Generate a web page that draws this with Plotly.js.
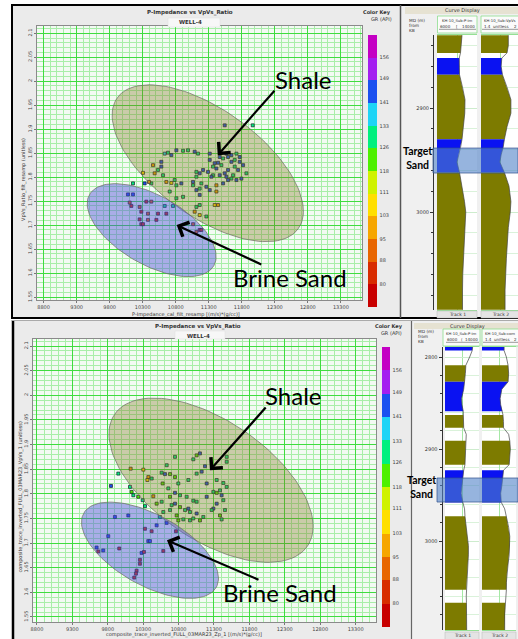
<!DOCTYPE html>
<html>
<head>
<meta charset="utf-8">
<script src="https://cdn.plot.ly/plotly-3.0.1.min.js"></script>
<style>
  html, body { margin: 0; padding: 0; background: #ffffff; }
  #chart { width: 518px; height: 639px; }
</style>
</head>
<body>
<div id="chart"></div>
<script>
// ---------- Well data crossplot (WELL-4) ----------
const xpTopImp = [10456,10481,10305,10532,10582,10633,10683,10810,10911,10986,11087,11138,10734,10582,10608,10658,10734,10810,10885,10784,10431,10330,10395,10153,10709,10810,10911,11163,11264,11188,11062,11113,11163,11315,11416,11390,11441,11163,11113,11087,11163,11264,
  11315,11390,11441,11491,11567,11643,11719,11769,11820,11870,11794,11719,11643,11567,11466,11365,11289,11163,11113,11062,11340,11416,11517,11592,11668,11744,11693,11592,11542,11416,11365,11643,11769,11693,11517,11466,11592,11214,11113,11315,11542,11966,
  10077,10153,10103,10128,10254,10355,10431,10279,10380,10532,10633,10658,10759,10254,10279,10380,10507,10305,11063,11163,11113,11188];
const xpTopVpvs = [1.825,1.808,1.809,1.815,1.832,1.849,1.851,1.856,1.855,1.856,1.853,1.849,1.846,1.822,1.804,1.790,1.788,1.783,1.787,1.794,1.787,1.787,1.790,1.787,1.770,1.756,1.759,1.763,1.780,1.787,1.783,1.773,1.776,1.773,1.770,1.742,1.742,1.742,1.738,1.728,1.721,1.718,
  1.836,1.829,1.830,1.825,1.849,1.846,1.849,1.842,1.825,1.808,1.797,1.794,1.797,1.801,1.804,1.804,1.811,1.808,1.801,1.790,1.801,1.783,1.787,1.794,1.804,1.815,1.822,1.815,1.808,1.818,1.822,1.832,1.832,1.836,1.839,1.842,1.842,1.815,1.811,1.849,1.908,1.908,
  1.764,1.764,1.747,1.740,1.738,1.749,1.749,1.728,1.724,1.724,1.740,1.724,1.740,1.712,1.702,1.711,1.711,1.702,1.702,1.690,1.686,1.690];
const xpTopGr = [100,100,105,126,145,140,133,145,126,133,141,133,145,145,126,100,103,126,141,133,126,141,100,126,133,133,126,141,141,126,133,141,133,141,100,103,100,133,126,100,103,126,
  145,141,145,133,141,145,126,141,145,133,141,145,126,141,145,133,141,145,126,141,145,100,141,145,133,141,126,145,141,145,133,141,145,133,126,141,145,141,133,145,141,133,
  141,141,88,84,88,84,92,84,88,84,126,84,126,84,84,88,84,84,95,84,88,84];

// ---------- Inverted volume crossplot (WELL-4 location) ----------
const xpBotImp = [10749,11055,11102,11008,11173,11479,11479,10632,10561,10679,10608,11055,11126,10796,10749,10938,11197,11338,11432,11479,11385,11408,11432,11455,11385,11408,11291,11267,11149,11102,11008,11055,10961,10891,10820,10749,10702,10679,10773,10867,10938,11008,11055,11197,11291,11338,10914,10820,10749,10679,10561,10490,10584,10537,10796,10961,11338,10655,10575,10373,10359,10123,10302,9949,9845,10114,10137,10161,10231,10293,10326,10443,10420,
  9901,10090,10325,10419,10490,10631,10763,10372,10396,9807,9642,9666,9736,9962,10278,10311,10584,10254,10254,10207,10198,10174];
const xpBotVpvs = [1.875,1.878,1.882,1.870,1.856,1.875,1.865,1.858,1.843,1.840,1.840,1.841,1.845,1.821,1.834,1.828,1.821,1.828,1.822,1.814,1.807,1.797,1.787,1.767,1.756,1.748,1.770,1.767,1.753,1.746,1.750,1.760,1.763,1.767,1.773,1.780,1.777,1.767,1.756,1.748,1.770,1.786,1.784,1.794,1.804,1.802,1.794,1.797,1.802,1.794,1.784,1.780,1.763,1.753,1.746,1.746,1.780,1.811,1.821,1.834,1.828,1.851,1.849,1.841,1.816,1.814,1.804,1.797,1.794,1.787,1.775,1.795,1.831,
  1.753,1.756,1.729,1.724,1.736,1.741,1.724,1.704,1.704,1.714,1.691,1.683,1.685,1.689,1.680,1.682,1.684,1.666,1.658,1.644,1.638,1.630];
const xpBotGr = [126,122,141,126,141,126,133,126,126,122,141,126,141,126,122,126,141,126,126,133,126,141,126,126,122,126,141,126,126,122,126,141,126,126,122,141,126,126,122,126,141,126,126,141,126,122,126,126,141,122,126,122,126,126,122,126,141,126,122,100,103,100,103,133,141,126,122,126,122,126,126,100,126,
  145,145,84,84,145,141,84,145,145,145,145,84,145,84,141,84,84,84,84,84,84,84];

// ---------- GR colour key ----------
const grKeyLabels = [80, 88, 95, 103, 111, 118, 126, 133, 141, 149, 156];
const grKeyColors = ['#c80000', '#d82c00', '#e86600', '#f6a600', '#ffdf00', '#cff200',
                     '#4ef000', '#00f07e', '#1ed4f6', '#1a50f0', '#a41ef0', '#c400c4'];
const grMin = 72.4, grMax = 163.6;

// ---------- Lithology polygons: centre and semi-axis vectors (data units) ----------
const shaleTop = { cx: 11285, cy: 1.829,  ux: 1368, uy: -0.1367, vx: -473, vy: -0.0896 };
const brineTop = { cx: 10436, cy: 1.6896, ux: 941,  uy: -0.0742, vx: -259, vy: -0.0623 };
const shaleBot = { cx: 11258, cy: 1.8276, ux: 1362, uy: -0.1337, vx: -472, vy: -0.0996 };
const brineBot = { cx: 10396, cy: 1.6854, ux: 937,  uy: -0.0750, vx: -241, vy: -0.0626 };

// ---------- Curve display logs (upper panel) ----------
const logTopDepth = [2830, 2840, 2847, 2852, 2860, 2868, 2880, 2892, 2905, 2918, 2930, 2938, 2945, 2952, 2962, 2975, 2990, 3000, 3015, 3030, 3045, 3060, 3075, 3094];
const logTopImp   = [11000,10900,10700,10450,10400,10500,11100,11600,11550,11300,11000,10700,10300,10000,10500,11000,11500,11750,11600,11300,11200,11150,11100,11100];
const logTopVpvs  = [1.82,1.82,1.80,1.72,1.71,1.73,1.80,1.86,1.86,1.80,1.76,1.74,1.71,1.69,1.76,1.83,1.86,1.85,1.82,1.80,1.79,1.78,1.77,1.77];
const zoneTopTop  = [2830, 2852, 2868, 2930, 2962];
const zoneTopBase = [2847, 2868, 2930, 2962, 3094];
const zoneTopLith = ['shale', 'sand', 'shale', 'sand', 'shale'];
const targetTop = [2938.5, 2962.5];

// ---------- Curve display logs (lower panel) ----------
const logBotDepth = [2789, 2793, 2800, 2809, 2818, 2827, 2835, 2845, 2852, 2859, 2863, 2870, 2877, 2884, 2891, 2900, 2908, 2917, 2923, 2932, 2940, 2948, 2958, 2965, 2973, 2985, 2995, 3005, 3015, 3025, 3035, 3045, 3053, 3060, 3067, 3080, 3097];
const logBotImp   = [12500,12400,11800,10900,10800,10600,10400,9900,10000,10300,10300,10300,10400,11000,10900,10800,10700,10700,10400,10200,10000,9800,10200,10600,10700,11000,11300,11500,11500,11400,11200,11100,11000,11000,11050,11100,11100];
const logBotVpvs  = [1.79,1.79,1.83,1.86,1.87,1.86,1.75,1.72,1.73,1.76,1.77,1.78,1.78,1.87,1.89,1.90,1.89,1.88,1.78,1.77,1.75,1.73,1.74,1.80,1.83,1.87,1.89,1.89,1.88,1.86,1.84,1.83,1.83,1.82,1.81,1.80,1.80];
const zoneBotTop  = [2789, 2809, 2827, 2863, 2891, 2923, 2973, 3067];
const zoneBotBase = [2793, 2827, 2859, 2877, 2917, 2958, 3053, 3097];
const zoneBotLith = ['sand', 'shale', 'sand', 'shale', 'shale', 'sand', 'shale', 'shale'];
const targetBot = [2931.5, 2957.6];

// ---------- helpers ----------
const W = 518, H = 639;
const px = v => v / W;
const py = v => 1 - v / H;
const lithColor = { shale: '#7d7b00', sand: '#0a12f2' };

function discreteScale(colors) {
  const n = colors.length, s = [];
  colors.forEach((c, i) => { s.push([i / n, c]); s.push([(i + 1) / n, c]); });
  return s;
}
const grScale = discreteScale(grKeyColors);

function ellipseTrace(e, fill, xa, ya) {
  const xs = [], ys = [], n = 120;
  for (let k = 0; k <= n; k++) {
    const t = 2 * Math.PI * k / n;
    xs.push(e.cx + e.ux * Math.cos(t) + e.vx * Math.sin(t));
    ys.push(e.cy + e.uy * Math.cos(t) + e.vy * Math.sin(t));
  }
  return { type: 'scatter', mode: 'lines', x: xs, y: ys, fill: 'toself', fillcolor: fill,
           line: { color: 'rgba(110,110,100,0.9)', width: 0.8 }, xaxis: xa, yaxis: ya,
           hoverinfo: 'skip', showlegend: false };
}

function pointsTrace(xs, ys, gr, xa, ya, cb) {
  return { type: 'scatter', mode: 'markers', x: xs, y: ys, xaxis: xa, yaxis: ya,
    marker: { symbol: 'square', size: 3, color: gr, colorscale: grScale, cmin: grMin, cmax: grMax,
      line: { width: 0.8, color: 'rgba(20,20,35,0.85)' }, showscale: true,
      colorbar: Object.assign({ xanchor: 'left', xpad: 0, yanchor: 'middle', ypad: 0,
        lenmode: 'fraction', thicknessmode: 'pixels', outlinewidth: 0,
        tickvals: grKeyLabels, ticktext: grKeyLabels.map(String),
        ticks: 'outside', ticklen: 2, tickcolor: 'rgba(0,0,0,0)',
        tickfont: { family: 'DejaVu Sans', size: 5, color: '#444' } }, cb) },
    hoverinfo: 'skip', showlegend: false };
}

function logTraces(depth, vals, zTop, zBase, zLith, xa, ya) {
  const out = zTop.map((t, i) => {
    const idx = depth.map((d, j) => j).filter(j => depth[j] >= t && depth[j] <= zBase[i]);
    return { type: 'scatter', mode: 'lines', x: idx.map(j => vals[j]), y: idx.map(j => depth[j]),
             fill: 'tozerox', fillcolor: lithColor[zLith[i]], line: { width: 0, color: lithColor[zLith[i]] },
             xaxis: xa, yaxis: ya, hoverinfo: 'skip', showlegend: false };
  });
  out.push({ type: 'scatter', mode: 'lines', x: vals, y: depth, line: { color: '#444', width: 0.7 },
             xaxis: xa, yaxis: ya, hoverinfo: 'skip', showlegend: false });
  return out;
}

const gridMajor = '#3fdc3f', gridMinor = '#a9eea9';
function crossX(d0, d1, range, anchor) {
  return { domain: [px(d0), px(d1)], range: range, anchor: anchor, tick0: 8800, dtick: 500,
    showgrid: true, gridcolor: gridMajor, gridwidth: 1, zeroline: false,
    minor: { tick0: 8800, dtick: 100, showgrid: true, gridcolor: gridMinor, gridwidth: 1 },
    ticks: 'outside', ticklen: 2, tickcolor: '#777', showline: true, mirror: true, linecolor: '#8a8a8a',
    tickformat: 'd',
    tickfont: { family: 'DejaVu Sans', size: 5, color: '#444' } };
}
function crossY(top, bottom, range, anchor) {
  return { domain: [py(bottom), py(top)], range: range, anchor: anchor, tick0: 1.55, dtick: 0.05,
    showgrid: true, gridcolor: gridMajor, gridwidth: 1, zeroline: false,
    minor: { tick0: 1.55, dtick: 0.01, showgrid: true, gridcolor: gridMinor, gridwidth: 1 },
    ticks: 'outside', ticklen: 2, tickcolor: '#777', showline: true, mirror: true, linecolor: '#8a8a8a',
    tickangle: -90, tickfont: { family: 'DejaVu Sans', size: 5, color: '#444' } };
}
function trackX(d0, d1, range, dtick, anchor) {
  return { domain: [px(d0), px(d1)], range: range, anchor: anchor, tick0: range[0], dtick: dtick,
    showticklabels: false, ticks: '', showgrid: true, gridcolor: '#a5e8a5', zeroline: false,
    showline: true, mirror: true, linecolor: '#95e095', linewidth: 1 };
}
function depthY(top, bottom, range, pos) {
  return { domain: [py(bottom), py(top)], range: range, anchor: 'free', position: px(pos), side: 'left',
    tick0: 2800, dtick: 100, ticks: 'outside', ticklen: 3, tickcolor: '#333',
    showline: true, linecolor: '#333', linewidth: 1, zeroline: false,
    showgrid: true, gridcolor: '#cdeccd',
    minor: { tick0: 2800, dtick: 20, ticks: 'outside', ticklen: 2, tickcolor: '#333', showgrid: true, gridcolor: '#daf2da' },
    tickfont: { family: 'DejaVu Sans', size: 5, color: '#333' } };
}

function rect(x0, y0, x1, y1, fill, lineColor, lw, layer) {
  return { type: 'rect', xref: 'paper', yref: 'paper', x0: px(x0), x1: px(x1), y0: py(y1), y1: py(y0),
           fillcolor: fill, line: { color: lineColor || 'rgba(0,0,0,0)', width: lw || 0 }, layer: layer || 'below' };
}
function hline(x0, x1, y, color, w) {
  return { type: 'line', xref: 'paper', yref: 'paper', x0: px(x0), x1: px(x1), y0: py(y), y1: py(y),
           line: { color: color, width: w }, layer: 'above' };
}
function vline(x, y0, y1, color, w, layer) {
  return { type: 'line', xref: 'paper', yref: 'paper', x0: px(x), x1: px(x), y0: py(y0), y1: py(y1),
           line: { color: color, width: w }, layer: layer || 'above' };
}
function domainRect(xr, yr, fill) {
  return { type: 'rect', xref: xr + ' domain', yref: yr + ' domain', x0: 0, x1: 1, y0: 0, y1: 1,
           fillcolor: fill, line: { width: 0 }, layer: 'below' };
}
function txt(s, x, y, size, o) {
  o = o || {};
  return { xref: 'paper', yref: 'paper', x: px(x), y: py(y), text: s, showarrow: false,
           xanchor: o.xanchor || 'center', yanchor: 'middle', textangle: o.angle || 0, borderpad: 0,
           align: 'center',
           font: { family: o.family || 'DejaVu Sans', size: size, color: o.color || '#333' } };
}
function arrow(xr, yr, hx, hy, tx, ty) {
  return { xref: xr, yref: yr, axref: xr, ayref: yr, x: hx, y: hy, ax: tx, ay: ty, text: '',
           showarrow: true, arrowhead: 4, arrowsize: 1.4, arrowwidth: 2.2, arrowcolor: '#000' };
}

// ---------- traces ----------
const shaleFill = 'rgba(130,120,40,0.36)', brineFill = 'rgba(80,80,220,0.45)';
const traces = [
  pointsTrace(xpTopImp, xpTopVpvs, xpTopGr, 'x', 'y', { x: px(368), y: py(171), len: 272 / H, thickness: 9 }),
  ellipseTrace(shaleTop, shaleFill, 'x', 'y'),
  ellipseTrace(brineTop, brineFill, 'x', 'y'),
  pointsTrace(xpBotImp, xpBotVpvs, xpBotGr, 'x2', 'y2', { x: px(382), y: py(487), len: 280 / H, thickness: 7.5 }),
  ellipseTrace(shaleBot, shaleFill, 'x2', 'y2'),
  ellipseTrace(brineBot, brineFill, 'x2', 'y2')
].concat(
  logTraces(logTopDepth, logTopImp,  zoneTopTop, zoneTopBase, zoneTopLith, 'x3', 'y3'),
  logTraces(logTopDepth, logTopVpvs, zoneTopTop, zoneTopBase, zoneTopLith, 'x4', 'y3'),
  logTraces(logBotDepth, logBotImp,  zoneBotTop, zoneBotBase, zoneBotLith, 'x5', 'y4'),
  logTraces(logBotDepth, logBotVpvs, zoneBotTop, zoneBotBase, zoneBotLith, 'x6', 'y4')
);

// ---------- panels, frames and headers ----------
const shapes = [
  // upper screen capture
  rect(12, 5, 400, 318, '#ebebeb'),
  rect(401, 5, 522, 318, '#f0f0f0'),
  rect(12, 5, 524, 318, 'rgba(0,0,0,0)', '#000', 2),
  vline(400.5, 5, 318, '#555', 1.5, 'below'),
  // lower screen capture
  rect(12, 321, 411, 642, '#ebebeb'),
  rect(412, 321, 522, 642, '#f0f0f0'),
  vline(13, 320, 642, '#000', 2.5, 'below'),
  hline(12, 518, 320.5, '#aaa', 1),
  vline(411.5, 321, 642, '#666', 1.2, 'below'),
  // plot backgrounds
  domainRect('x', 'y', '#f3faf3'),
  domainRect('x2', 'y2', '#f3faf3'),
  domainRect('x3', 'y3', '#ffffff'),
  domainRect('x4', 'y3', '#ffffff'),
  domainRect('x5', 'y4', '#ffffff'),
  domainRect('x6', 'y4', '#ffffff'),
  // well name boxes
  rect(168, 18, 220, 27, '#f7f7f7', '#dddddd', 0.5, 'above'),
  rect(175, 331, 225, 339, '#f7f7f7', '#dddddd', 0.5, 'above'),
  // curve display bands
  rect(405, 7, 520, 14, '#e6e2d2', null, 0, 'above'),
  rect(414, 323, 520, 329, '#e6e2d2', null, 0, 'above'),
  // track headers
  rect(437.5, 16, 477, 33, '#fbfbfb', '#8ede8e', 0.8, 'above'),
  rect(481, 16, 522, 33, '#fbfbfb', '#8ede8e', 0.8, 'above'),
  rect(443, 329, 480, 346, '#fbfbfb', '#8ede8e', 0.8, 'above'),
  rect(482, 329, 522, 346, '#fbfbfb', '#8ede8e', 0.8, 'above'),
  hline(439, 476, 29.3, '#555', 0.6), hline(482, 518, 29.3, '#555', 0.6),
  hline(446, 479, 342.3, '#555', 0.6), hline(483, 518, 342.3, '#555', 0.6),
  // track footers
  rect(437, 311, 477, 318, '#e4e4e4', '#bbbbbb', 0.5, 'above'),
  rect(481, 311, 522, 318, '#e4e4e4', '#bbbbbb', 0.5, 'above'),
  rect(445, 632, 479, 641, '#e4e4e4', '#bbbbbb', 0.5, 'above'),
  rect(482, 632, 516, 641, '#e4e4e4', '#bbbbbb', 0.5, 'above'),
  // target sand zones
  { type: 'rect', xref: 'paper', yref: 'y3', x0: px(433), x1: 1, y0: targetTop[0], y1: targetTop[1],
    fillcolor: 'rgba(80,130,200,0.6)', line: { color: 'rgba(50,80,140,0.7)', width: 1 }, layer: 'above' },
  { type: 'rect', xref: 'paper', yref: 'y4', x0: px(437), x1: 1, y0: targetBot[0], y1: targetBot[1],
    fillcolor: 'rgba(80,130,200,0.6)', line: { color: 'rgba(50,80,140,0.7)', width: 1 }, layer: 'above' }
];

const big = { family: 'Lato', color: '#000' };
const hdr = 4, hdrName = 3.8, md = 4.3;
const annotations = [
  // upper crossplot text
  txt('<b>P-Impedance vs VpVs_Ratio</b>', 190, 13, 5.5),
  txt('<b>WELL-4</b>', 190, 22.5, 5.5),
  txt('P-Impedance_cal_filt_resamp [(m/s)*(g/cc)]', 186, 314, 5),
  txt('VpVs_Ratio_filt_resamp (unitless)', 23, 180, 5, { angle: -90 }),
  txt('<b>Color Key</b>', 377, 13, 5),
  txt('GR (API)', 381, 19, 5),
  txt('Shale', 303, 79, 24, big),
  txt('Brine Sand', 290, 277, 24, big),
  arrow('x', 'y', 11436, 1.8459, 12315, 1.9833),
  arrow('x', 'y', 10815, 1.7001, 12118, 1.6167),
  // lower crossplot text
  txt('<b>P-Impedance vs VpVs_Ratio</b>', 198, 327, 5.5),
  txt('<b>WELL-4</b>', 198, 335.5, 5.5),
  txt('composite_trace_inverted_FULL_03MAR23_Zp_1 [(m/s)*(g/cc)]', 184, 634.5, 5),
  txt('composite_trace_inverted_FULL_03MAR23_VpVs_1 (unitless)', 19.5, 497, 5, { angle: -90 }),
  txt('<b>Color Key</b>', 389, 326, 5),
  txt('GR (API)', 391, 333, 5),
  txt('Shale', 293, 395, 24, big),
  txt('Brine Sand', 280, 592, 24, big),
  arrow('x2', 'y2', 11243, 1.8479, 12049, 1.978),
  arrow('x2', 'y2', 10636, 1.7056, 11950, 1.6243),
  // upper curve display header
  txt('Curve Display', 462, 10.5, 5),
  txt('MD (m)', 408, 20, md, { xanchor: 'left' }),
  txt('from', 408, 25, md, { xanchor: 'left' }),
  txt('KB', 408, 30, md, { xanchor: 'left' }),
  txt('KH-10_Sub:P-im', 457, 20.5, hdrName),
  txt('6000', 439, 26.3, hdr, { xanchor: 'left' }),
  txt('[', 457, 26.3, hdr),
  txt('14000', 476, 26.3, hdr, { xanchor: 'right' }),
  txt('KH-10_Sub:VpVs', 482.5, 20.5, hdrName, { xanchor: 'left' }),
  txt('1.4', 482.5, 26.3, hdr, { xanchor: 'left' }),
  txt('unitless', 501, 26.3, hdr),
  txt('2', 515, 26.3, hdr),
  txt('Track 1', 457, 314.5, 4.5),
  txt('Track 2', 500, 314.5, 4.5),
  txt('<b>Target</b><br><b>Sand</b>', 417, 158, 10.5, big),
  // lower curve display header
  txt('Curve Display', 467, 326, 5),
  txt('MD (m)', 417, 332, md, { xanchor: 'left' }),
  txt('from', 417, 336.7, md, { xanchor: 'left' }),
  txt('KB', 417, 341.4, md, { xanchor: 'left' }),
  txt('KH-10_Sub:P-im', 461.5, 333.5, hdrName),
  txt('6000', 446, 339.3, hdr, { xanchor: 'left' }),
  txt('(', 462, 339.3, hdr),
  txt('14000', 479, 339.3, hdr, { xanchor: 'right' }),
  txt('KH-10_Sub:com', 483.5, 333.5, hdrName, { xanchor: 'left' }),
  txt('1.4', 483.5, 339.3, hdr, { xanchor: 'left' }),
  txt('unitless', 502, 339.3, hdr),
  txt('2', 515.5, 339.3, hdr),
  txt('Track 1', 462, 635.5, 4.5),
  txt('Track 2', 499, 635.5, 4.5),
  txt('<b>Target</b><br><b>Sand</b>', 421.5, 487, 10.5, big)
];

const layout = {
  width: W, height: H, margin: { l: 0, r: 0, t: 0, b: 0 },
  paper_bgcolor: '#ffffff', plot_bgcolor: 'rgba(0,0,0,0)',
  font: { family: 'DejaVu Sans', size: 5, color: '#333' },
  showlegend: false,
  xaxis:  crossX(37, 362, [8700, 13620], 'y'),
  yaxis:  crossY(26, 300, [1.544, 2.115], 'x'),
  xaxis2: crossX(33, 376, [8744, 13588], 'y2'),
  yaxis2: crossY(339, 622, [1.5398, 2.1142], 'x2'),
  xaxis3: trackX(437, 477, [6000, 14000], 4000, 'y3'),
  xaxis4: trackX(481, 518, [1.4, 1.969], 0.3, 'y3'),
  yaxis3: depthY(35, 310, [3094.2, 2829.8], 433),
  xaxis5: trackX(445, 479, [6000, 14000], 4000, 'y4'),
  xaxis6: trackX(482, 516, [1.4, 2.0], 0.3, 'y4'),
  yaxis4: depthY(347, 630, [3096.7, 2789.1], 441.5),
  shapes: shapes,
  annotations: annotations
};

Plotly.newPlot('chart', traces, layout, { staticPlot: true, displayModeBar: false });
</script>
</body>
</html>
